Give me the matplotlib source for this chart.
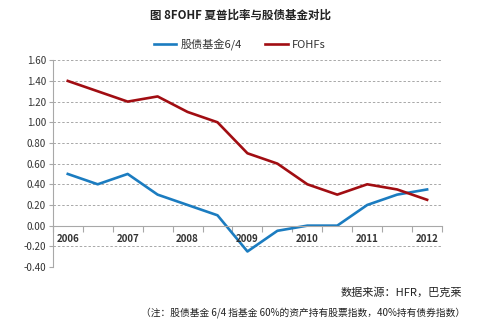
import numpy as np
import matplotlib
matplotlib.use("Agg")
import matplotlib.pyplot as plt

plt.rcParams['font.family'] = ['Noto Sans CJK SC', 'DejaVu Sans']

# half-year periods, labels on every second period
years = ["2006", "", "2007", "", "2008", "", "2009", "", "2010", "", "2011", "", "2012"]
stock_bond = [0.5, 0.4, 0.5, 0.3, 0.2, 0.1, -0.25, -0.05, 0.0, 0.0, 0.2, 0.3, 0.35]
fohfs = [1.4, 1.3, 1.2, 1.25, 1.1, 1.0, 0.7, 0.6, 0.4, 0.3, 0.4, 0.35, 0.25]
y_ticks = [-0.4, -0.2, 0.0, 0.2, 0.4, 0.6, 0.8, 1.0, 1.2, 1.4, 1.6]

blue = "#1b7cc0"
red = "#a10d12"
grey = "#a8a8a8"
text_col = "#333333"

fig = plt.figure(figsize=(4.8, 3.24), dpi=100)
ax = fig.add_axes([0.110, 0.176, 0.811, 0.638])

x = np.arange(len(years))
ax.plot(x, stock_bond, color=blue, lw=1.9, label="股债基金6/4")
ax.plot(x, fohfs, color=red, lw=1.9, label="FOHFs")

ax.set_xlim(-0.5, len(years) - 0.5)
ax.set_ylim(-0.4, 1.6)
ax.set_yticks(y_ticks)
ax.set_yticklabels(["%.2f" % v for v in y_ticks], fontsize=7, color=text_col)
ax.yaxis.grid(True, linestyle=(0, (2.5, 2)), color=grey, lw=0.7)
ax.set_axisbelow(True)

# x axis sits on zero, ticks at period boundaries
ax.spines['bottom'].set_position(('data', 0))
ax.spines['bottom'].set_color(grey)
ax.spines['left'].set_color(grey)
ax.spines['top'].set_visible(False)
ax.spines['right'].set_visible(False)
ax.set_xticks(np.arange(-0.5, len(years), 1.0))
ax.set_xticklabels([])
ax.tick_params(axis='x', length=4, color=grey, width=0.8)
ax.tick_params(axis='y', length=3, color=grey, width=0.8, pad=2)
for i, lab in enumerate(years):
    if lab:
        ax.text(i, -0.125, lab, ha='center', va='center', fontsize=7,
                color=text_col, fontweight='bold')

fig.text(0.5, 0.952, "图 8FOHF 夏普比率与股债基金对比", ha='center', va='center',
         fontsize=8.3, fontweight='bold', color="#222222")
fig.legend(loc='center', bbox_to_anchor=(0.5, 0.864), ncol=2, frameon=False,
           fontsize=8, handlelength=2.0, columnspacing=2.1, handletextpad=0.4,
           labelcolor=text_col)

fig.text(0.962, 0.096, "数据来源：HFR，巴克莱", ha='right', va='center',
         fontsize=8, color="#222222")
fig.text(0.968, 0.034, "（注：股债基金 6/4 指基金 60%的资产持有股票指数，40%持有债券指数）",
         ha='right', va='center', fontsize=7, color="#222222")

fig.savefig("out.png", dpi=100, facecolor="white")
